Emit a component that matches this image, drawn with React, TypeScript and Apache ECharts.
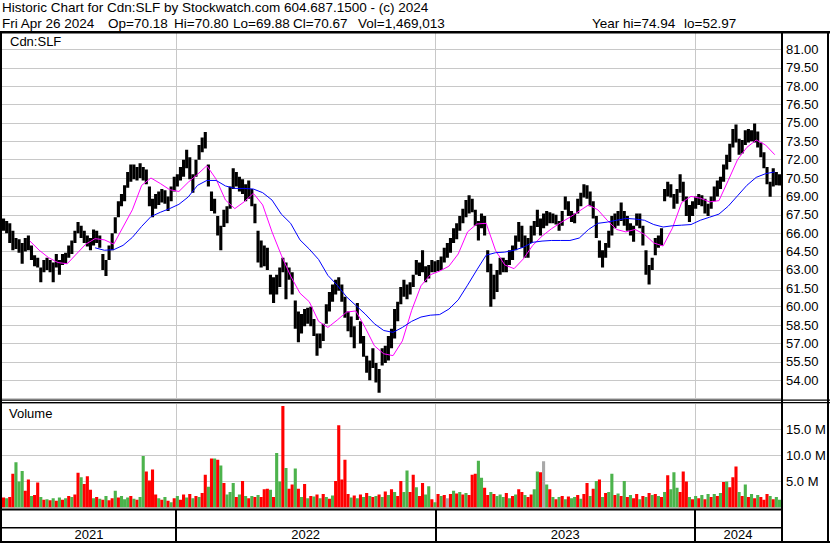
import React, { useEffect, useRef } from "react";
import * as echarts from "echarts";

// ---- data ----
// Each price/volume sample covers 3 trading days; x unit = trading day from the first bar.
const DAYS_PER_BAR = 3;
const TOTAL_DAYS = 753;
const HIGH = [
  67.2, 67.0, 66.8, 66.2, 65.6, 65.5, 65.2, 65.6, 65.8, 65.0,
  64.2, 64.0, 63.2, 63.8, 64.0, 63.8, 63.6, 64.3, 63.8, 64.3,
  64.4, 65.0, 65.4, 66.2, 66.9, 66.6, 66.2, 65.8, 65.6, 66.3,
  66.2, 65.8, 64.3, 63.8, 65.0, 66.0, 67.3, 68.6, 69.2, 69.9,
  71.0, 71.6, 71.6, 71.4, 71.7, 71.4, 71.2, 69.8, 68.8, 69.2,
  69.4, 69.6, 69.5, 69.0, 69.8, 70.6, 70.8, 71.4, 72.0, 72.8,
  72.2, 70.8, 72.0, 73.2, 73.8, 74.25, 71.6, 69.4, 68.8, 67.4,
  66.6, 67.9, 68.2, 69.8, 71.3, 71.0, 70.6, 70.4, 70.0, 70.3,
  69.6, 68.4, 66.2, 65.4, 65.0, 64.8, 62.6, 62.4, 62.6, 63.2,
  64.0, 63.6, 63.2, 62.8, 60.5, 59.6, 59.4, 59.8, 59.9, 60.0,
  59.0, 57.8, 57.8, 58.6, 60.2, 61.2, 61.8, 62.2, 62.4, 61.8,
  60.8, 59.6, 59.2, 58.4, 60.3, 58.8, 57.6, 56.0, 55.6, 56.6,
  55.4, 54.9, 56.6, 56.8, 57.6, 58.2, 59.8, 60.4, 61.6, 62.2,
  61.8, 62.0, 62.6, 63.8, 63.6, 64.6, 63.3, 63.4, 63.8, 63.7,
  63.8, 64.1, 64.8, 65.2, 65.6, 66.4, 66.8, 67.4, 68.0, 68.7,
  69.1, 68.8, 67.9, 67.0, 67.6, 67.4, 64.6, 63.5, 62.6, 63.0,
  64.0, 64.0, 63.8, 64.6, 65.0, 65.8, 66.9, 66.6, 65.8, 65.6,
  66.6, 67.0, 67.9, 67.2, 67.6, 67.8, 67.7, 67.6, 67.5, 67.0,
  67.8, 69.0, 68.6, 67.8, 67.6, 68.8, 69.3, 70.0, 69.9, 69.4,
  68.6, 67.4, 65.4, 64.6, 65.2, 66.2, 67.4, 67.6, 67.8, 68.5,
  67.8, 67.4, 66.8, 66.6, 67.6, 67.6, 66.6, 64.6, 63.4, 64.0,
  65.6, 65.8, 66.4, 69.6, 70.2, 70.0, 69.2, 69.6, 70.8, 70.2,
  69.0, 68.3, 68.6, 69.0, 69.2, 69.1, 68.8, 68.4, 69.0, 69.8,
  70.3, 70.6, 71.6, 72.4, 73.3, 74.5, 74.86, 73.7, 73.6, 74.4,
  74.5, 74.4, 74.94, 74.3, 73.4, 72.6, 71.4, 70.2, 71.3, 71.0,
  70.8,
];
const LOW = [
  66.2, 66.0, 65.2, 64.6, 64.7, 64.4, 63.5, 64.5, 64.6, 63.8,
  63.3, 63.2, 62.0, 62.8, 63.0, 62.8, 62.0, 63.2, 62.6, 63.4,
  63.5, 64.0, 64.3, 65.2, 66.0, 65.6, 65.2, 64.9, 64.6, 65.0,
  65.2, 64.8, 63.0, 62.5, 63.8, 64.6, 66.0, 67.3, 68.2, 68.6,
  69.7, 70.2, 70.4, 70.3, 70.5, 70.3, 70.0, 68.2, 67.3, 68.0,
  68.3, 68.5, 68.4, 67.8, 68.6, 69.4, 69.8, 70.3, 70.6, 71.3,
  70.4, 69.3, 70.6, 72.0, 72.6, 72.9, 69.8, 67.8, 67.6, 65.8,
  64.6, 66.5, 66.8, 68.0, 69.6, 69.8, 69.4, 69.2, 68.6, 68.8,
  68.2, 66.8, 63.6, 63.2, 63.3, 63.0, 61.0, 60.3, 61.0, 61.6,
  62.8, 60.6, 62.2, 61.0, 58.2, 57.1, 57.8, 58.4, 58.6, 58.4,
  57.6, 56.0, 56.6, 57.2, 58.6, 59.6, 60.4, 61.0, 61.3, 60.4,
  59.1, 58.0, 57.5, 56.6, 58.9, 57.0, 55.9, 54.6, 54.0, 55.0,
  53.8, 52.97, 55.2, 55.4, 55.6, 56.6, 57.4, 58.8, 60.2, 60.8,
  60.6, 61.0, 61.6, 62.6, 62.5, 62.8, 62.0, 62.3, 62.8, 62.8,
  62.9, 63.0, 63.6, 64.0, 64.4, 65.2, 65.5, 66.2, 66.8, 67.3,
  67.6, 67.7, 66.6, 65.4, 66.4, 65.8, 62.8, 60.0, 60.6, 61.2,
  62.6, 62.8, 62.8, 63.4, 63.8, 64.6, 65.3, 64.8, 64.0, 64.0,
  65.2, 65.8, 66.5, 65.8, 66.4, 66.6, 66.8, 66.8, 66.7, 66.2,
  66.6, 67.9, 67.4, 66.9, 66.8, 67.6, 68.2, 68.9, 68.8, 68.2,
  67.2, 65.6, 64.0, 63.2, 64.0, 64.8, 65.8, 66.4, 66.6, 67.0,
  66.6, 66.2, 65.8, 65.3, 66.6, 66.4, 65.0, 62.6, 61.8, 63.0,
  64.2, 64.8, 65.0, 68.6, 69.0, 68.9, 68.0, 68.4, 69.3, 68.6,
  67.4, 66.9, 67.4, 68.0, 68.3, 68.2, 67.6, 67.4, 68.0, 68.6,
  69.0, 69.6, 70.2, 71.2, 71.8, 73.0, 73.4, 72.4, 72.5, 73.2,
  73.4, 73.5, 73.4, 73.0, 72.2, 71.3, 70.0, 68.96, 69.8, 69.9,
  69.88,
];
// volume in millions of shares
const VOLUME = [
  1.9, 1.8, 2.0, 6.5, 8.7, 5.0, 7.0, 3.2, 5.4, 2.2,
  2.4, 4.8, 2.0, 1.5, 1.6, 1.4, 1.8, 1.3, 1.9, 1.5,
  1.8, 2.2, 2.0, 2.5, 6.7, 5.8, 4.5, 6.0, 3.4, 1.8,
  2.0, 1.7, 1.5, 2.2, 1.4, 1.8, 3.2, 1.9, 2.2, 1.6,
  1.9, 2.2, 1.7, 1.5, 2.0, 9.9, 6.9, 5.2, 7.3, 2.5,
  1.8, 1.5, 2.0, 1.3, 1.0, 1.8, 2.2, 1.5, 2.5, 1.9,
  2.6, 1.8, 2.2, 2.0, 2.8, 6.3, 4.0, 9.4, 9.4, 9.2,
  8.1, 4.7, 2.5, 3.0, 4.7, 2.0, 2.5, 5.1, 2.2, 1.8,
  2.2, 2.0, 2.4, 2.0, 3.5, 3.6, 3.4, 2.0, 10.5, 5.0,
  19.5, 7.6, 3.6, 4.4, 7.5, 3.6, 2.0, 4.5, 1.8, 2.2,
  2.1, 2.5, 1.8, 2.6, 2.0, 1.7, 2.3, 5.1, 15.8, 5.4,
  9.2, 2.6, 1.9, 2.3, 1.8, 2.5, 2.0, 2.8, 2.2, 2.0,
  2.2, 2.5, 2.0, 3.1, 2.4, 3.5, 3.0, 2.2, 5.1, 3.0,
  7.1, 3.0, 6.3, 3.9, 2.2, 4.7, 2.5, 4.1, 1.6, 1.0,
  2.6, 2.2, 2.4, 1.8, 2.6, 3.2, 2.7, 3.0, 2.5, 2.8,
  2.4, 6.3, 6.5, 9.0, 5.7, 3.8, 2.4, 3.0, 2.6, 2.2,
  2.5, 2.0, 2.8, 1.8, 2.2, 2.5, 3.5, 3.0, 2.4, 2.0,
  2.5, 3.5, 6.9, 6.8, 8.9, 4.4, 3.5, 2.0, 1.6, 2.0,
  2.2, 1.6, 2.1, 1.8, 2.0, 2.4, 1.7, 2.6, 4.7, 2.2,
  3.6, 5.1, 5.4, 2.0, 2.8, 3.0, 6.5, 2.4, 2.7, 2.2,
  5.1, 2.0, 2.4, 1.8, 2.6, 1.6, 2.2, 2.0, 2.8, 2.4,
  2.6, 2.2, 2.0, 3.0, 6.2, 3.5, 6.8, 3.8, 3.0, 6.9,
  5.0, 2.0, 1.6, 2.2, 1.8, 2.4, 1.6, 2.6, 2.0, 2.6,
  2.2, 2.8, 4.9, 5.0, 3.9, 5.8, 7.9, 3.0, 2.2, 4.4,
  2.0, 2.6, 1.8, 2.4, 2.0, 1.5, 2.6, 2.2, 1.6, 2.0,
  1.47,
];
// d = down (red), u = up (green), n = unchanged (grey)
const VOLUME_DIR = [
  "d","u","d","d","u","u","u","d","d","u",
  "d","d","u","d","u","d","u","d","u","d",
  "u","d","u","d","d","u","d","d","d","u",
  "d","u","d","u","d","d","u","d","u","u",
  "u","d","u","d","u","u","d","d","d","d",
  "u","d","u","d","u","d","u","d","d","u",
  "d","u","d","u","d","d","u","d","u","d",
  "u","d","u","u","u","d","u","d","u","d",
  "u","d","u","d","d","d","u","d","u","u",
  "d","u","d","d","u","d","u","d","u","d",
  "u","d","u","d","u","d","u","d","d","d",
  "d","d","u","d","u","d","u","d","u","d",
  "u","d","u","d","u","d","u","d","d","u",
  "u","d","d","u","d","d","u","u","d","u",
  "d","u","d","n","d","u","d","u","d","u",
  "d","d","d","u","u","d","d","u","d","u",
  "u","u","d","u","d","u","d","d","u","d",
  "d","u","u","d","n","u","d","u","d","u",
  "d","u","d","u","u","d","u","d","d","u",
  "d","u","d","u","d","u","u","d","u","d",
  "u","d","u","d","d","u","d","u","d","u",
  "d","u","d","u","d","u","u","u","d","d",
  "d","u","d","u","d","u","d","u","d","u",
  "d","u","d","u","d","d","d","u","d","u",
  "d","u","d","u","d","d","d","u","d","u",
  "u",
];
// moving averages, one value every 9 trading days
const MA_STEP = 9;
const MA_FAST = [
  null, null, null, 65.35, 64.6, 64.0, 63.6, 63.5, 64.3, 65.1,
  65.55, 65.45, 65.1, 66.5, 67.9, 69.9, 70.5, 70.05, 69.55, 69.4,
  70.15, 70.8, 71.5, 70.4, 68.7, 68.0, 68.55, 69.25, 68.3, 66.1,
  64.2, 62.5, 61.1, 60.4, 58.8, 58.3, 58.9, 59.55, 59.65, 58.3,
  56.8, 56.15, 56.0, 57.2, 59.7, 61.7, 62.6, 62.9, 63.3, 64.3,
  66.1, 66.75, 66.8, 64.6, 63.4, 63.1, 63.9, 65.0, 65.75, 66.35,
  66.85, 67.3, 67.8, 68.3, 67.9, 67.05, 66.3, 66.1, 66.3, 65.9,
  65.2, 64.95, 66.4, 68.5, 69.0, 68.85, 68.55, 68.65, 70.3, 72.0,
  73.0, 73.6, 73.2, 72.4,
];
const MA_SLOW = [
  null, null, null, null, null, null, null, null, null, null,
  64.8, 64.6, 64.65, 65.0, 65.65, 66.55, 67.35, 67.7, 68.0, 68.35,
  68.95, 69.9, 70.3, 70.3, 69.85, 69.65, 69.65, 69.6, 69.3, 68.7,
  67.55, 66.8, 65.45, 64.7, 63.85, 62.55, 61.75, 60.8, 60.1, 59.4,
  58.6, 58.05, 57.9, 58.3, 58.8, 59.15, 59.3, 59.35, 59.8, 60.55,
  61.75, 63.0, 64.2, 64.4, 64.45, 64.6, 64.85, 65.25, 65.35, 65.4,
  65.4, 65.4, 65.6, 66.3, 66.8, 66.9, 67.05, 67.2, 67.15, 67.05,
  66.7, 66.5, 66.6, 66.65, 66.7, 67.05, 67.3, 67.55, 68.2, 69.05,
  69.9, 70.55, 70.85, 71.0,
];
const YEARS = ["2021", "2022", "2023", "2024"];
const YEAR_START_DAYS = [168, 419, 670];
const PRICE_MIN = 52.5;
const PRICE_MAX = 82.5;
const PRICE_STEP = 1.5;
const VOL_MIN = 0;
const VOL_MAX = 20;
const VOL_STEP = 5;

const TITLE_1 = "Historic Chart for Cdn:SLF by Stockwatch.com 604.687.1500 - (c) 2024";
const TITLE_2_FIELDS = [
  "Fri Apr 26 2024",
  "Op=70.18",
  "Hi=70.80",
  "Lo=69.88",
  "Cl=70.67",
  "Vol=1,469,013",
  "Year hi=74.94",
  "lo=52.97",
];
const TITLE_2_X = [2, 108, 174, 233, 293, 358, 592, 684];

const FONT = '"Liberation Sans", Arial, sans-serif';
const COLORS: Record<string, string> = { d: "#ff0000", u: "#4cb34c", n: "#a8a8a8" };

export default function App() {
  const ref = useRef<HTMLDivElement>(null);

  useEffect(() => {
    document.body.style.margin = "0";
    if (!ref.current) return;
    const chart = echarts.init(ref.current, null, { renderer: "svg" });

    const priceData = HIGH.map((h, i) => [i * DAYS_PER_BAR, (i + 1) * DAYS_PER_BAR, LOW[i], h]);
    const volData = VOLUME.map((v, i) => [i * DAYS_PER_BAR, (i + 1) * DAYS_PER_BAR, 0, v]);
    const maPts = (arr: (number | null)[]) =>
      arr.map((v, j) => (v == null ? null : [j * MA_STEP, v])).filter((p) => p) as number[][];

    const yearAreas = YEARS.map((y, i) => [
      { xAxis: i === 0 ? 0 : YEAR_START_DAYS[i - 1], yAxis: 0, name: y },
      { xAxis: i < YEAR_START_DAYS.length ? YEAR_START_DAYS[i] : TOTAL_DAYS, yAxis: 13 },
    ]);

    const rangeRender = (fillFn: (i: number) => string) => (params: any, api: any) => {
      const a = api.coord([api.value(0), api.value(3)]);
      const b = api.coord([api.value(1), api.value(2)]);
      return {
        type: "rect",
        shape: { x: a[0], y: Math.min(a[1], b[1]), width: b[0] - a[0], height: Math.max(Math.abs(b[1] - a[1]), 1) },
        style: { fill: fillFn(params.dataIndex) },
      };
    };

    const xAxisBase = { type: "value", min: 0, max: TOTAL_DAYS, show: false };
    const gridLine = { lineStyle: { color: "#c8c8c8", width: 1 } };
    const yearLines = (color: string, width: number) => ({
      silent: true,
      z: 1,
      symbol: ["none", "none"],
      label: { show: false },
      lineStyle: { color, width, type: "solid" },
      data: YEAR_START_DAYS.map((d) => ({ xAxis: d })),
    });

    const rect = (x: number, y: number, w: number, h: number) => ({
      type: "rect",
      z: 100,
      silent: true,
      shape: { x, y, width: w, height: h },
      style: { fill: "#000" },
    });
    const text = (x: number, y: number, t: string, size: number) => ({
      type: "text",
      z: 100,
      x,
      y,
      style: { text: t, fill: "#000", font: `${size}px ${FONT}`, verticalAlign: "middle", align: "left" },
    });

    chart.setOption({
      animation: false,
      backgroundColor: "#fff",
      textStyle: { fontFamily: FONT },
      grid: [
        { left: 2, right: 49, top: 31, height: 367.5 },
        { left: 2, right: 49, top: 403.5, height: 104 },
        { left: 2, right: 49, top: 510, height: 31 },
      ],
      xAxis: [
        { ...xAxisBase, gridIndex: 0 },
        { ...xAxisBase, gridIndex: 1 },
        { ...xAxisBase, gridIndex: 2 },
      ],
      yAxis: [
        {
          type: "value",
          gridIndex: 0,
          position: "right",
          min: PRICE_MIN,
          max: PRICE_MAX,
          interval: PRICE_STEP,
          axisLine: { show: false },
          axisTick: { show: false },
          splitLine: gridLine,
          axisLabel: {
            color: "#000",
            fontSize: 13,
            fontFamily: FONT,
            margin: 5,
            showMinLabel: false,
            showMaxLabel: false,
            formatter: (v: number) => v.toFixed(2),
          },
        },
        {
          type: "value",
          gridIndex: 1,
          position: "right",
          min: VOL_MIN,
          max: VOL_MAX,
          interval: VOL_STEP,
          axisLine: { show: false },
          axisTick: { show: false },
          splitLine: gridLine,
          axisLabel: {
            color: "#000",
            fontSize: 13,
            fontFamily: FONT,
            margin: 5,
            showMinLabel: false,
            showMaxLabel: false,
            formatter: (v: number) => v.toFixed(1) + " M",
          },
        },
        { type: "value", gridIndex: 2, min: 0, max: 31, show: false },
      ],
      series: [
        {
          type: "custom",
          name: "Cdn:SLF",
          xAxisIndex: 0,
          yAxisIndex: 0,
          z: 2,
          clip: true,
          data: priceData,
          encode: { x: [0, 1], y: [2, 3] },
          renderItem: rangeRender(() => "#000"),
          markLine: yearLines("#c8c8c8", 1),
        },
        {
          type: "line",
          name: "MA fast",
          xAxisIndex: 0,
          yAxisIndex: 0,
          z: 3,
          showSymbol: false,
          data: maPts(MA_FAST),
          lineStyle: { color: "#ff00ff", width: 1 },
        },
        {
          type: "line",
          name: "MA slow",
          xAxisIndex: 0,
          yAxisIndex: 0,
          z: 3,
          showSymbol: false,
          data: maPts(MA_SLOW),
          lineStyle: { color: "#0000ff", width: 1 },
        },
        {
          type: "custom",
          name: "Volume",
          xAxisIndex: 1,
          yAxisIndex: 1,
          z: 2,
          clip: true,
          data: volData,
          encode: { x: [0, 1], y: [2, 3] },
          renderItem: rangeRender((i) => COLORS[VOLUME_DIR[i]]),
          markLine: yearLines("#c8c8c8", 1),
        },
        {
          type: "line",
          name: "years",
          xAxisIndex: 2,
          yAxisIndex: 2,
          data: [],
          markLine: yearLines("#000", 2),
          markArea: {
            silent: true,
            itemStyle: { color: "rgba(0,0,0,0)" },
            label: { show: true, position: "inside", color: "#000", fontSize: 13, fontFamily: FONT },
            data: yearAreas,
          },
        },
      ],
      graphic: [
        text(2, 7, TITLE_1, 13.5),
        ...TITLE_2_FIELDS.map((t, i) => text(TITLE_2_X[i], 23.5, t, 13.5)),
        text(10, 41.5, "Cdn:SLF", 13),
        text(9, 413.5, "Volume", 13),
        rect(0, 31, 830, 2.5),
        rect(0, 31, 2, 512),
        rect(781, 31, 2, 512),
        rect(827, 31, 2, 512),
        rect(0, 399.5, 830, 1.2),
        rect(0, 402, 830, 1.2),
        rect(0, 508.5, 783, 2),
        rect(0, 527, 783, 1.5),
        rect(0, 541, 830, 2),
      ],
    });

    return () => chart.dispose();
  }, []);

  return <div ref={ref} style={{ width: 830, height: 543 }} />;
}
